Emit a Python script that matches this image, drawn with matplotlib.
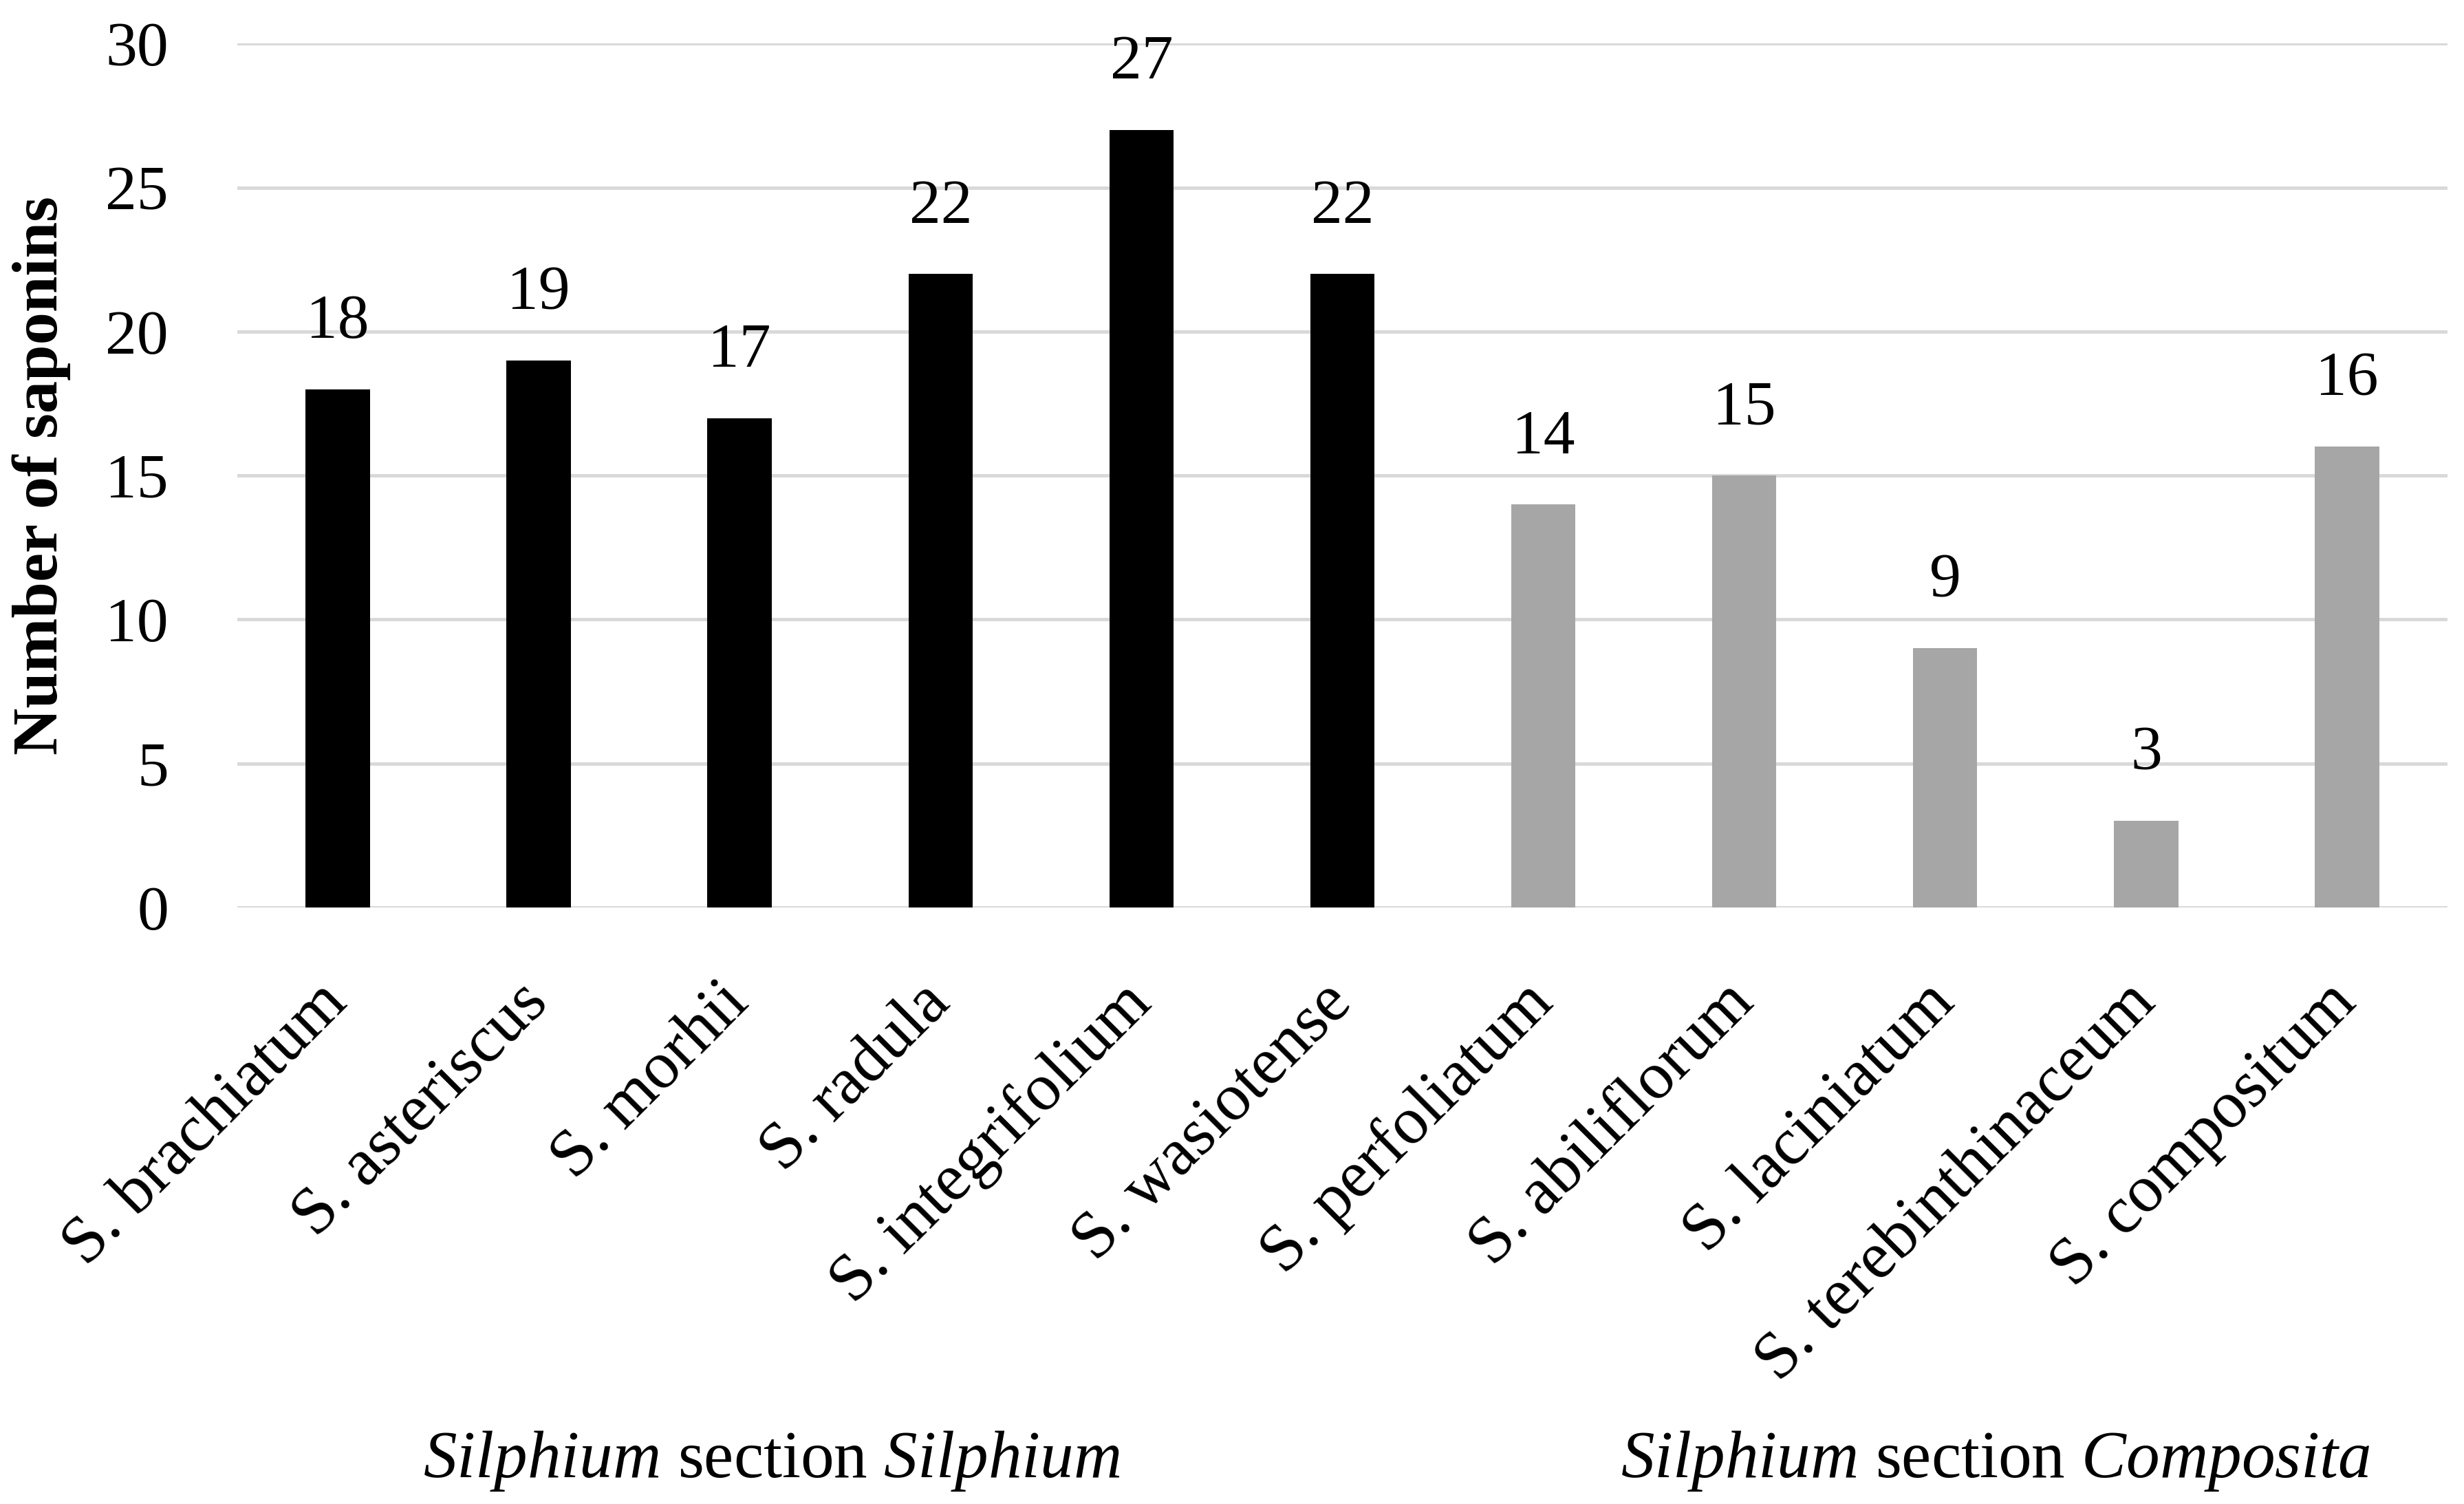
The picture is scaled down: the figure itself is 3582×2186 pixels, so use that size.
import matplotlib.pyplot as plt
from matplotlib import transforms

plt.rcParams['font.family'] = ['Liberation Serif', 'DejaVu Serif']
plt.rcParams['mathtext.fontset'] = 'custom'
plt.rcParams['mathtext.rm'] = 'Liberation Serif'
plt.rcParams['mathtext.it'] = 'Liberation Serif:italic'

species = ['S. brachiatum', 'S. asteriscus', 'S. morhii', 'S. radula', 'S. integrifolium',
           'S. wasiotense', 'S. perfoliatum', 'S. abiliflorum', 'S. laciniatum',
           'S. terebinthinaceum', 'S. compositum']
saponins = [18, 19, 17, 22, 27, 22, 14, 15, 9, 3, 16]
section = ['Silphium'] * 6 + ['Composita'] * 5
section_colors = {'Silphium': '#000000', 'Composita': '#A6A6A6'}
section_titles = [r'$\mathit{Silphium}$ section $\mathit{Silphium}$',
                  r'$\mathit{Silphium}$ section $\mathit{Composita}$']
section_centers = [2.16, 8.25]

fig = plt.figure(figsize=(17.91, 10.93), dpi=200)
ax = fig.add_axes([0.0963, 0.3966, 0.897, 0.5744])

x = list(range(len(species)))
colors = [section_colors[s] for s in section]
ax.bar(x, saponins, width=0.32, color=colors, zorder=3)

# value labels above the bars
for xi, v in zip(x, saponins):
    ax.annotate(str(v), (xi, v), xytext=(0, 20), textcoords='offset points',
                ha='center', va='bottom', fontsize=33)

ax.set_xlim(-0.5, len(species) - 0.5)
ax.set_ylim(0, 30)
ax.set_yticks(range(0, 31, 5))
ax.tick_params(axis='y', length=0, pad=36, labelsize=33)
ax.tick_params(axis='x', length=0, pad=45)
ax.set_xticks(x)
ax.set_xticklabels(species, rotation=45, ha='right', va='center',
                   rotation_mode='anchor', fontsize=35)

ax.grid(axis='y', color='#D9D9D9', linewidth=1.8, zorder=0)
ax.grid(axis='x', visible=False)
for sp in ax.spines.values():
    sp.set_visible(False)

ax.set_ylabel('Number of saponins', fontsize=34, fontweight='bold')
ax.yaxis.set_label_coords(-0.0753, 0.5)

trans = transforms.blended_transform_factory(ax.transData, fig.transFigure)
for cx, title in zip(section_centers, section_titles):
    ax.text(cx, 0.0178, title, transform=trans, ha='center', va='baseline', fontsize=35)

fig.savefig('out.png', dpi=200)
